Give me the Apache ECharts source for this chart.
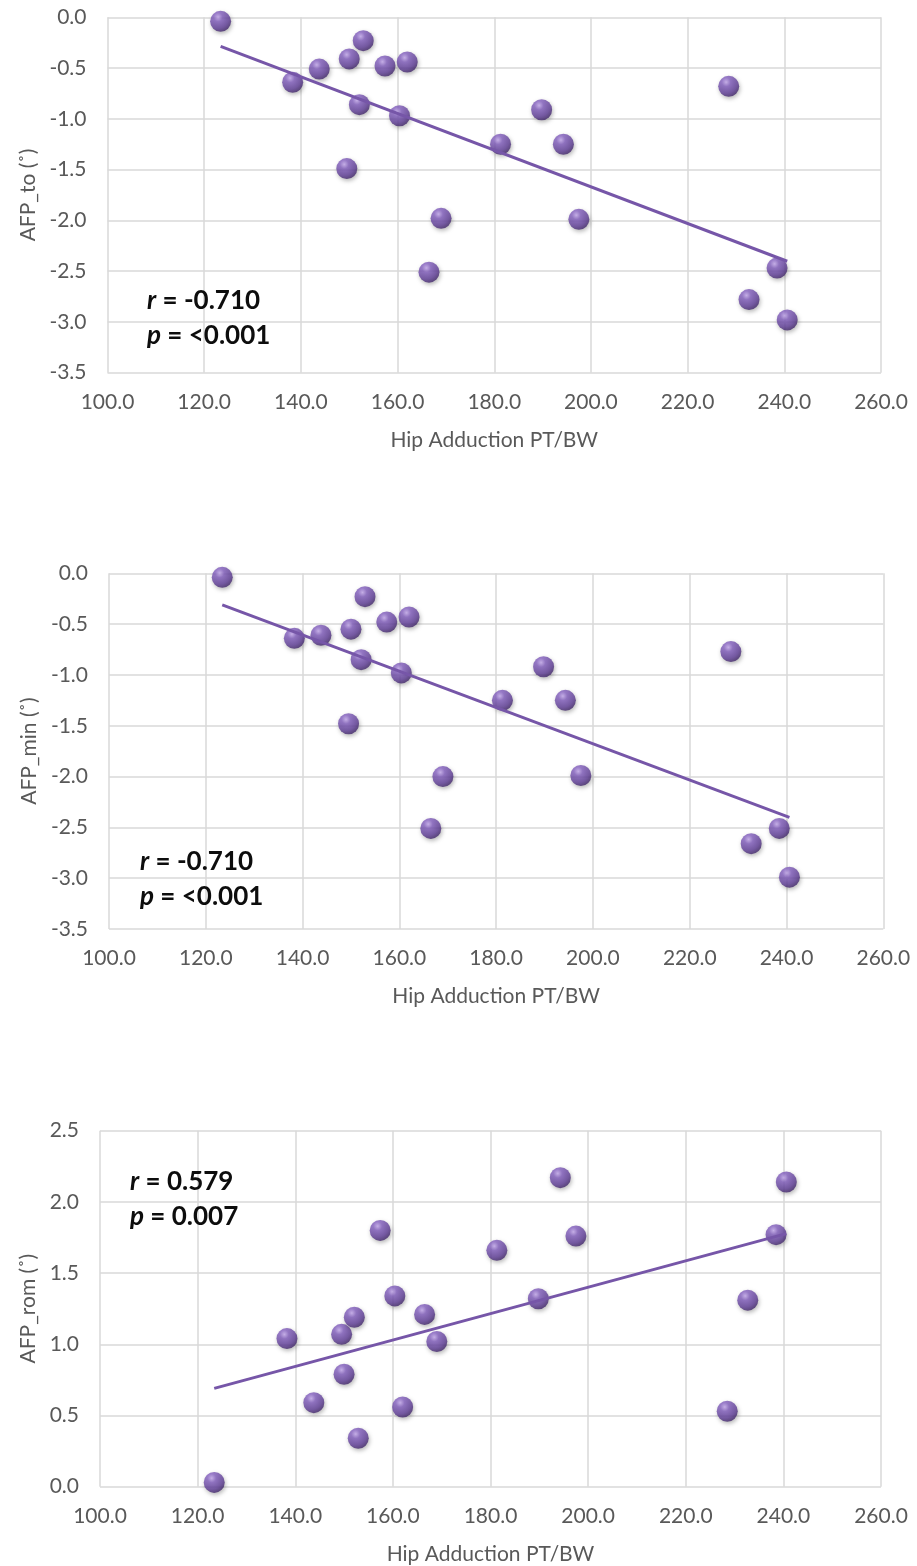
<!DOCTYPE html>
<html>
<head>
<meta charset="utf-8">
<script src="https://cdn.jsdelivr.net/npm/echarts@6/dist/echarts.min.js"></script>
<style>
  html, body { margin: 0; padding: 0; background: #ffffff; }
  #chart { width: 917px; height: 1566px; }
</style>
</head>
<body>
<div id="chart"></div>
<script>
// Hip adduction peak torque / body weight for each participant (shared x values)
const hipPT = [123.4, 138.3, 143.8, 149.5, 150.0, 152.1, 152.9, 157.4, 160.4, 162.0,
               166.5, 169.0, 181.3, 189.8, 194.3, 197.5, 228.5, 232.7, 238.5, 240.6];

// Arch / foot posture angles (degrees) for the same participants
const afpTo  = [-0.04, -0.64, -0.51, -1.49, -0.41, -0.86, -0.23, -0.48, -0.97, -0.44,
                -2.51, -1.98, -1.25, -0.91, -1.25, -1.99, -0.68, -2.78, -2.47, -2.98];
const afpMin = [-0.04, -0.64, -0.61, -1.48, -0.55, -0.85, -0.23, -0.48, -0.98, -0.43,
                -2.51, -2.00, -1.25, -0.92, -1.25, -1.99, -0.77, -2.66, -2.51, -2.99];
const afpRom = [0.03, 1.04, 0.59, 1.07, 0.79, 1.19, 0.34, 1.80, 1.34, 0.56,
                1.21, 1.02, 1.66, 1.32, 2.17, 1.76, 0.53, 1.31, 1.77, 2.14];

// Axis names and correlation annotations
const yNames = ['AFP_to (˚)', 'AFP_min (˚)', 'AFP_rom (˚)'];
const rTexts = ['-0.710', '-0.710', '0.579'];
const pTexts = ['<0.001', '<0.001', '0.007'];
const xName = 'Hip Adduction PT/BW';
const yRanges = [[-3.5, 0], [-3.5, 0], [0, 2.5]];

const FONT = 'Lato, "Open Sans", sans-serif';
const GRID_COLOR = '#d9d9d9';
const TEXT_COLOR = '#595959';
const PURPLE = '#7656a8';

// Least-squares line spanning the x range of the data
function trend(xs, ys) {
  const n = xs.length;
  const mx = xs.reduce((a, b) => a + b, 0) / n;
  const my = ys.reduce((a, b) => a + b, 0) / n;
  let sxy = 0, sxx = 0;
  for (let i = 0; i < n; i++) {
    sxy += (xs[i] - mx) * (ys[i] - my);
    sxx += (xs[i] - mx) * (xs[i] - mx);
  }
  const b = sxy / sxx, a = my - b * mx;
  const x0 = Math.min(...xs), x1 = Math.max(...xs);
  return [[x0, a + b * x0], [x1, a + b * x1]];
}

// Shaded sphere fill for the markers
const sphere = new echarts.graphic.RadialGradient(0.38, 0.3, 0.7, [
  { offset: 0, color: '#c6aaf0' },
  { offset: 0.3, color: '#8460c0' },
  { offset: 0.75, color: '#62409a' },
  { offset: 1, color: '#44296e' }
]);

const grids = [
  { left: 107.5, top: 17.3, width: 773.5, height: 355.4 },
  { left: 109, top: 573.3, width: 774.3, height: 355.7 },
  { left: 100, top: 1130.7, width: 781, height: 356 }
];
const yNameGaps = [68, 69, 61];
const notePos = [[147, 283], [140, 844], [130, 1164]];
const seriesY = [afpTo, afpMin, afpRom];

const option = {
  backgroundColor: '#ffffff',
  animation: false,
  grid: grids,
  xAxis: grids.map((g, i) => ({
    gridIndex: i, type: 'value', min: 100, max: 260, interval: 20,
    axisLine: { show: false }, axisTick: { show: false },
    splitLine: { show: true, lineStyle: { color: GRID_COLOR, width: 1.5 } },
    axisLabel: { formatter: v => v.toFixed(1), color: TEXT_COLOR, fontSize: 21, margin: 19, fontFamily: FONT },
    name: xName, nameLocation: 'middle', nameGap: 57,
    nameTextStyle: { color: TEXT_COLOR, fontSize: 21, fontFamily: FONT }
  })),
  yAxis: grids.map((g, i) => ({
    gridIndex: i, type: 'value', min: yRanges[i][0], max: yRanges[i][1], interval: 0.5,
    axisLine: { show: false }, axisTick: { show: false },
    splitLine: { show: true, lineStyle: { color: GRID_COLOR, width: 1.5 } },
    axisLabel: { formatter: v => v.toFixed(1), color: TEXT_COLOR, fontSize: 21, margin: 21, fontFamily: FONT },
    name: yNames[i], nameLocation: 'middle', nameGap: yNameGaps[i], nameRotate: 90,
    nameTextStyle: { color: TEXT_COLOR, fontSize: 21, fontFamily: FONT }
  })),
  title: notePos.map((p, i) => ({
    left: p[0], top: p[1], padding: 0,
    text: '{i|r}{b| = ' + rTexts[i] + '}\n{i|p}{b| = ' + pTexts[i] + '}',
    textStyle: {
      rich: {
        i: { fontFamily: FONT, fontSize: 26, fontWeight: 'bold', fontStyle: 'italic', color: '#0d0d0d', lineHeight: 35 },
        b: { fontFamily: FONT, fontSize: 26, fontWeight: 'bold', color: '#0d0d0d', lineHeight: 35 }
      }
    }
  })),
  series: [].concat(...seriesY.map((ys, i) => [
    {
      type: 'scatter', xAxisIndex: i, yAxisIndex: i, symbolSize: 21, z: 3,
      data: hipPT.map((x, k) => [x, ys[k]]),
      itemStyle: {
        color: sphere, shadowColor: 'rgba(0,0,0,0.35)', shadowBlur: 4, shadowOffsetX: 1, shadowOffsetY: 2
      }
    },
    {
      type: 'line', xAxisIndex: i, yAxisIndex: i, showSymbol: false, silent: true, z: 4,
      data: trend(hipPT, ys),
      lineStyle: { color: PURPLE, width: 3 }
    }
  ]))
};

echarts.init(document.getElementById('chart'), null, { renderer: 'canvas' }).setOption(option);
</script>
</body>
</html>
